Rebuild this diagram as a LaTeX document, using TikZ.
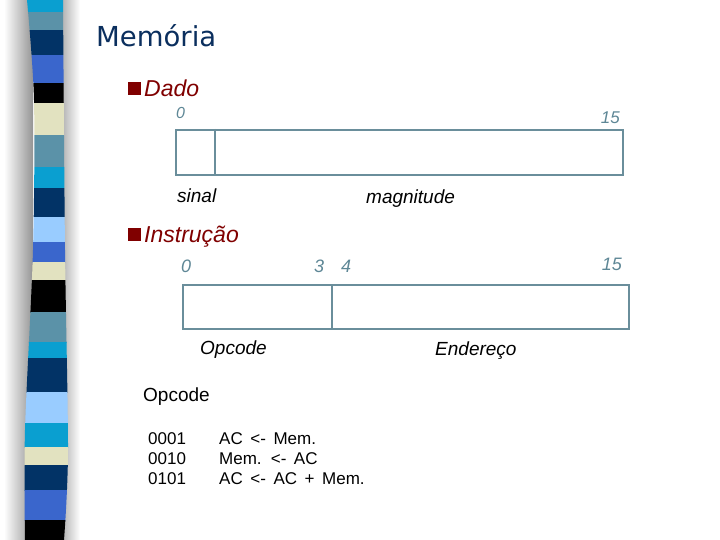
\documentclass[tikz,border=0pt]{standalone}
\usepackage{fontspec}
\setmainfont{Liberation Sans}
\newfontfamily\titlefont{DejaVu Sans}
\definecolor{cCyan}{HTML}{0A9FD0}
\definecolor{cSteel}{HTML}{5B92A8}
\definecolor{cNavy}{HTML}{023366}
\definecolor{cRoyal}{HTML}{3A66CC}
\definecolor{cLight}{HTML}{99CCFF}
\definecolor{cBeige}{HTML}{E2E2C0}
\definecolor{cBlack}{HTML}{000000}
\definecolor{titlecol}{HTML}{0B2F5E}
\definecolor{bulletcol}{HTML}{800000}
\definecolor{bitcol}{HTML}{5E8796}
\definecolor{boxcol}{HTML}{6A8E9B}
\tikzset{
  fieldbox/.style={draw=boxcol, line width=2pt, rectangle, inner sep=0pt, anchor=north west},
  divider/.style={draw=boxcol, line width=2pt},
  bitlbl/.style={anchor=base west, inner sep=0pt, text=bitcol, font=\itshape\fontsize{#1}{#1}\selectfont},
  bitlbl/.default=17,
  fieldlbl/.style={anchor=base west, inner sep=0pt, text=black, font=\itshape\fontsize{19}{19}\selectfont},
  heading/.style={anchor=base west, inner sep=0pt, text=bulletcol, font=\itshape\fontsize{23}{23}\selectfont},
  bulletsq/.style={fill=bulletcol, draw=none, rectangle, inner sep=0pt, minimum size=13pt, anchor=north west},
  plain/.style={anchor=base west, inner sep=0pt, text=black, font=\fontsize{17}{17}\selectfont},
}
\begin{document}
\begin{tikzpicture}[x=1pt,y=-1pt]
\useasboundingbox (0,0) rectangle (720,540);
\fill[white] (0,0) rectangle (720,540);
% shadows of the side strip
\shade[left color=white, right color=black!42] (4,0) rectangle (33,540);
\shade[left color=black!30, right color=white] (62,0) rectangle (80,540);
% side strip
\begin{scope}
\clip plot[smooth] coordinates {(27,0) (34,100) (33,250) (25,430) (25,540)}
  -- plot[smooth] coordinates {(64,540) (68,450) (65,250) (63,0)} -- cycle;
\foreach \ya/\yb/\cc in {0/12/cCyan,12/30/cSteel,30/55/cNavy,55/83/cRoyal,83/103/cBlack,
  103/135/cBeige,135/167/cSteel,167/188/cCyan,188/217/cNavy,217/242/cLight,242/262/cRoyal,
  262/280/cBeige,280/312/cBlack,312/342/cSteel,342/358/cCyan,358/392/cNavy,392/423/cLight,
  423/447/cCyan,447/465/cBeige,465/490/cNavy,490/520/cRoyal,520/540/cBlack}
  \fill[\cc] (0,\ya) rectangle (80,\yb+0.5);
\end{scope}
% title
\node[anchor=base west, inner sep=0pt, text=titlecol, font=\titlefont\fontsize{27.5}{28}\selectfont] (title) at (96,47) {Memória};
% Dado
\node[bulletsq] (b1) at (128,82) {};
\node[heading] (dado) at (144,97) {Dado};
\node[bitlbl=16] (d0) at (176,119) {0};
\node[bitlbl=17, anchor=base east] (d15) at (620,124) {15};
\node[fieldbox, minimum width=447pt, minimum height=45pt] (dbox) at (175,129) {};
\coordinate (dt) at (215,129);
\coordinate (db) at (215,174);
\draw[divider] (dt) -- (db);
\node[fieldlbl] (sinal) at (177,203) {sinal};
\node[fieldlbl] (mag) at (366,204) {magnitude};
% Instrucao
\node[bulletsq] (b2) at (128,228) {};
\node[heading] (instr) at (144,242) {Instrução};
\node[bitlbl=18] (i0) at (181,272) {0};
\node[bitlbl=18] (i3) at (314,272) {3};
\node[bitlbl=18] (i4) at (341,272) {4};
\node[bitlbl=18, anchor=base east] (i15) at (622,270) {15};
\node[fieldbox, minimum width=446pt, minimum height=44pt] (ibox) at (182,284) {};
\coordinate (it) at (332,284);
\coordinate (ib) at (332,330);
\draw[divider] (it) -- (ib);
\node[fieldlbl] (opc) at (200,354) {Opcode};
\node[fieldlbl] (end) at (435,355) {Endereço};
% opcode table
\node[plain, font=\fontsize{19}{19}\selectfont] (opch) at (143,401) {Opcode};
\node[plain] (c1) at (148,444) {0001};
\node[plain] (c2) at (148,464) {0010};
\node[plain] (c3) at (148,484) {0101};
\node[plain] (o1) at (219,444) {AC \,<-\, Mem.};
\node[plain] (o2) at (219,464) {Mem. \,<-\, AC};
\node[plain] (o3) at (219,484) {AC \,<-\, AC \,+\, Mem.};
\end{tikzpicture}
\end{document}
